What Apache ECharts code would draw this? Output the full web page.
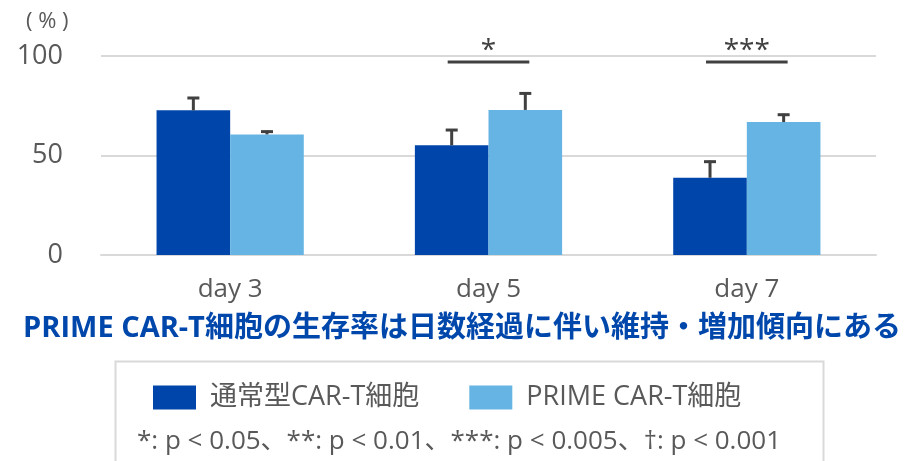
<!DOCTYPE html>
<html>
<head>
<meta charset="utf-8">
<script src="https://cdn.jsdelivr.net/npm/echarts@6/dist/echarts.min.js"></script>
<style>
  html, body { margin: 0; padding: 0; background: #fff; }
  #chart { width: 924px; height: 461px; }
</style>
</head>
<body>
<div id="chart"></div>
<script>
// survival rate by day, two CAR-T variants (mean + upper error)
const days = ['day 3', 'day 5', 'day 7'];
const standardMean = [72.7, 55.1, 38.8];
const standardErr = [6.7, 8.2, 8.6];
const primeMean = [60.6, 72.9, 66.8];
const primeErr = [1.9, 8.8, 4.2];
const sigMarks = ['', '*', '***'];
const sigLevel = [97, 97, 97];
const yTicks = { min: 0, max: 100, interval: 50 };

const FONT = "'Open Sans', 'Noto Sans CJK JP', sans-serif";
const DARK = '#0046aa';
const LIGHT = '#66b4e4';
const GRAY_TEXT = '#595959';
const INK = '#404040';
const CAT_GAP = 0.43;

// bar centre for series idx (0 = left, 1 = right) within a category band
function barCenter(api, cat, val, idx) {
  const p = api.coord([cat, val]);
  const band = api.size([1, 0])[0];
  const w = band * (1 - CAT_GAP) / 2;
  return [p[0] + (idx === 0 ? -w / 2 : w / 2), p[1], w];
}

function errorSeries(means, errs, idx) {
  return {
    type: 'custom',
    z: 5,
    silent: true,
    data: means.map((m, i) => [i, m, m + errs[i]]),
    renderItem: (params, api) => {
      const cat = api.value(0);
      const base = barCenter(api, cat, api.value(1), idx);
      const top = barCenter(api, cat, api.value(2), idx);
      const x = base[0];
      const cap = 6;
      return {
        type: 'group',
        children: [
          { type: 'line', shape: { x1: x, y1: base[1], x2: x, y2: top[1] }, style: { stroke: INK, lineWidth: 3 } },
          { type: 'line', shape: { x1: x - cap, y1: top[1] + 1, x2: x + cap, y2: top[1] + 1 }, style: { stroke: INK, lineWidth: 3 } }
        ]
      };
    }
  };
}

const chart = echarts.init(document.getElementById('chart'));
chart.setOption({
  backgroundColor: '#fff',
  animation: false,
  textStyle: { fontFamily: FONT },
  title: [
    { text: '( % )', left: 21, top: 6, textStyle: { fontFamily: FONT, fontSize: 22, fontWeight: 'normal', color: GRAY_TEXT } },
    { text: 'PRIME CAR-T細胞の生存率は日数経過に伴い維持・増加傾向にある', left: 'center', top: 309,
      textStyle: { fontFamily: FONT, fontSize: 29, fontWeight: 'bold', color: '#0047ab' } },
    { text: '*: p < 0.05、**: p < 0.01、***: p < 0.005、†: p < 0.001', left: 132, top: 424,
      textStyle: { fontFamily: FONT, fontSize: 26, fontWeight: 'normal', color: GRAY_TEXT } }
  ],
  graphic: [
    { type: 'rect', left: 113, top: 359, shape: { width: 708, height: 130 },
      style: { fill: 'none', stroke: '#d9d9d9', lineWidth: 2 }, silent: true }
  ],
  legend: {
    left: 153, top: 384, padding: 0,
    icon: 'rect', itemWidth: 43, itemHeight: 24, itemGap: 50,
    textStyle: { fontFamily: FONT, fontSize: 27, color: GRAY_TEXT, padding: [0, 0, 0, 9] },
    data: ['通常型CAR-T細胞', 'PRIME CAR-T細胞']
  },
  grid: { left: 101, right: 48, top: 56, bottom: 206, containLabel: false },
  xAxis: {
    type: 'category',
    data: days,
    axisLine: { show: true, lineStyle: { color: '#d9d9d9', width: 2 } },
    axisTick: { show: false },
    axisLabel: { fontFamily: FONT, fontSize: 26, color: GRAY_TEXT, margin: 22 }
  },
  yAxis: {
    type: 'value',
    min: yTicks.min, max: yTicks.max, interval: yTicks.interval,
    axisLine: { show: false },
    axisTick: { show: false },
    splitLine: { lineStyle: { color: '#d9d9d9', width: 2 } },
    axisLabel: { fontFamily: FONT, fontSize: 27, color: GRAY_TEXT, margin: 38 }
  },
  series: [
    { name: '通常型CAR-T細胞', type: 'bar', data: standardMean, barGap: '0%', barCategoryGap: (CAT_GAP * 100) + '%',
      itemStyle: { color: DARK } },
    { name: 'PRIME CAR-T細胞', type: 'bar', data: primeMean, barGap: '0%', barCategoryGap: (CAT_GAP * 100) + '%',
      itemStyle: { color: LIGHT } },
    errorSeries(standardMean, standardErr, 0),
    errorSeries(primeMean, primeErr, 1),
    {
      type: 'custom',
      z: 6,
      silent: true,
      clip: false,
      data: days.map((d, i) => [i, sigLevel[i], sigMarks[i]]).filter(r => r[2]),
      renderItem: (params, api) => {
        const cat = api.value(0);
        const lev = api.value(1);
        const l = barCenter(api, cat, lev, 0);
        const r = barCenter(api, cat, lev, 1);
        const x1 = l[0] - 4, x2 = r[0] + 4, y = l[1];
        return {
          type: 'group',
          children: [
            { type: 'line', shape: { x1: x1, y1: y, x2: x2, y2: y }, style: { stroke: INK, lineWidth: 3 } },
            { type: 'text', x: (x1 + x2) / 2, y: y + 3,
              style: { text: sigMarks[cat], fontFamily: FONT, fontSize: 28, fill: INK, align: 'center', verticalAlign: 'bottom' } }
          ]
        };
      }
    }
  ]
});
</script>
</body>
</html>
